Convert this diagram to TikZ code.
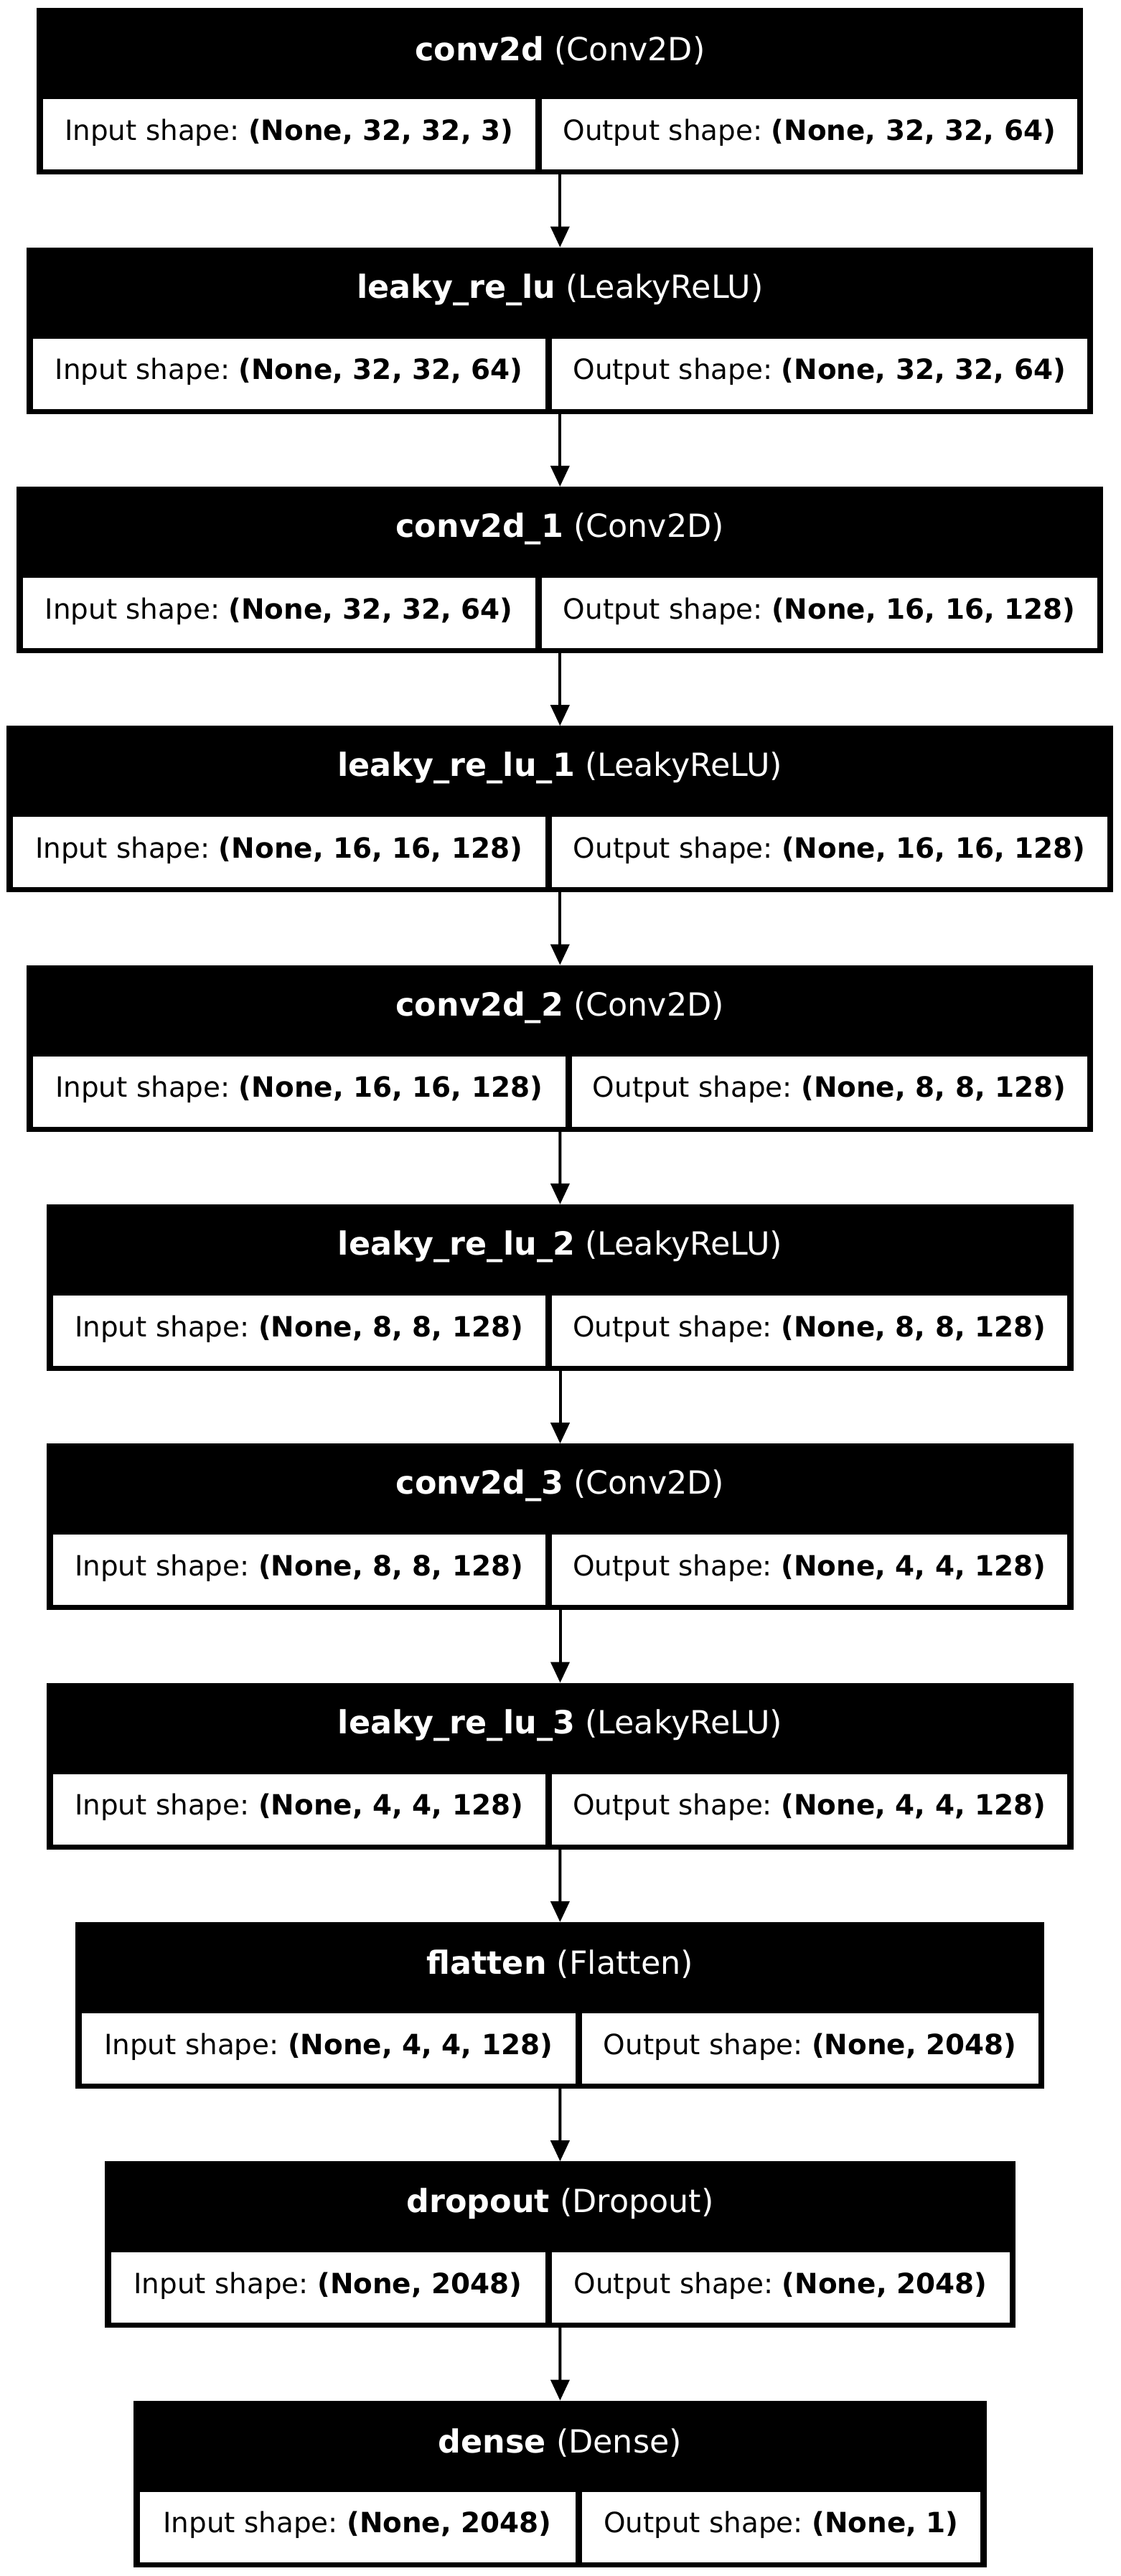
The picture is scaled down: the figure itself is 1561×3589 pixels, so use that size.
\documentclass[tikz,border=0pt]{standalone}
\usepackage{fontspec}
\setmainfont{DejaVu Sans}
\usetikzlibrary{arrows.meta}
\frenchspacing

\begin{document}
\begin{tikzpicture}[x=1pt, y=-1pt,
    layer/.style={fill=black, inner sep=0pt, outer sep=0pt, minimum height=232pt},
    title/.style={text=white, inner sep=0pt, font=\fontsize{44.44}{53}\selectfont},
    cell/.style={fill=white, draw=black, line width=1pt, inner sep=0pt,
      minimum height=99pt, text height=29.5pt, text depth=13pt,
      font=\fontsize{38.89}{46}\selectfont},
    flow/.style={-{Triangle[length=29pt, width=26pt]}, line width=4pt}]
      \useasboundingbox (0,0) rectangle (1561,3589);

      % Layers (conv + relu)
      \node[layer, minimum width=1458pt] (conv) at (780.3,127.2) {};
      \node[title] (conv-t) at (780.3,70.2) {\textbf{conv2d} (Conv2D)};
      \node[cell, minimum width=686.7pt] (conv-in) at (402.65,187.2) {Input shape: \textbf{(None, 32, 32, 3)}};
      \node[cell, minimum width=747.3pt] (conv-out) at (1127.65,187.2) {Output shape: \textbf{(None, 32, 32, 64)}};

      \node[layer, minimum width=1486pt] (relu) at (780.3,460.5) {};
      \node[title] (relu-t) at (780.3,403.5) {\textbf{leaky\_re\_lu} (LeakyReLU)};
      \node[cell, minimum width=714.7pt] (relu-in) at (402.65,520.5) {Input shape: \textbf{(None, 32, 32, 64)}};
      \node[cell, minimum width=747.3pt] (relu-out) at (1141.65,520.5) {Output shape: \textbf{(None, 32, 32, 64)}};

      \node[layer, minimum width=1514pt] (convA) at (780.3,793.9) {};
      \node[title] (convA-t) at (780.3,736.9) {\textbf{conv2d\_1} (Conv2D)};
      \node[cell, minimum width=714.7pt] (convA-in) at (388.65,853.9) {Input shape: \textbf{(None, 32, 32, 64)}};
      \node[cell, minimum width=775.3pt] (convA-out) at (1141.65,853.9) {Output shape: \textbf{(None, 16, 16, 128)}};

      \node[layer, minimum width=1542pt] (reluA) at (780.3,1127.2) {};
      \node[title] (reluA-t) at (780.3,1070.2) {\textbf{leaky\_re\_lu\_1} (LeakyReLU)};
      \node[cell, minimum width=742.7pt] (reluA-in) at (388.65,1187.2) {Input shape: \textbf{(None, 16, 16, 128)}};
      \node[cell, minimum width=775.3pt] (reluA-out) at (1155.65,1187.2) {Output shape: \textbf{(None, 16, 16, 128)}};

      \node[layer, minimum width=1486pt] (convB) at (780.3,1460.5) {};
      \node[title] (convB-t) at (780.3,1403.5) {\textbf{conv2d\_2} (Conv2D)};
      \node[cell, minimum width=742.7pt] (convB-in) at (416.65,1520.5) {Input shape: \textbf{(None, 16, 16, 128)}};
      \node[cell, minimum width=719.3pt] (convB-out) at (1155.65,1520.5) {Output shape: \textbf{(None, 8, 8, 128)}};

      \node[layer, minimum width=1430.4pt] (reluB) at (780.5,1793.9) {};
      \node[title] (reluB-t) at (780.5,1736.9) {\textbf{leaky\_re\_lu\_2} (LeakyReLU)};
      \node[cell, minimum width=686.7pt] (reluB-in) at (416.65,1853.9) {Input shape: \textbf{(None, 8, 8, 128)}};
      \node[cell, minimum width=719.7pt] (reluB-out) at (1127.85,1853.9) {Output shape: \textbf{(None, 8, 8, 128)}};

      \node[layer, minimum width=1430.4pt] (convC) at (780.5,2127.2) {};
      \node[title] (convC-t) at (780.5,2070.2) {\textbf{conv2d\_3} (Conv2D)};
      \node[cell, minimum width=686.7pt] (convC-in) at (416.65,2187.2) {Input shape: \textbf{(None, 8, 8, 128)}};
      \node[cell, minimum width=719.7pt] (convC-out) at (1127.85,2187.2) {Output shape: \textbf{(None, 4, 4, 128)}};

      \node[layer, minimum width=1430.4pt] (reluC) at (780.5,2460.5) {};
      \node[title] (reluC-t) at (780.5,2403.5) {\textbf{leaky\_re\_lu\_3} (LeakyReLU)};
      \node[cell, minimum width=686.7pt] (reluC-in) at (416.65,2520.5) {Input shape: \textbf{(None, 4, 4, 128)}};
      \node[cell, minimum width=719.7pt] (reluC-out) at (1127.85,2520.5) {Output shape: \textbf{(None, 4, 4, 128)}};

      % Layers (head)
      \node[layer, minimum width=1350pt] (flat) at (780.3,2793.9) {};
      \node[title] (flat-t) at (780.3,2736.9) {\textbf{flatten} (Flatten)};
      \node[cell, minimum width=688.7pt] (flat-in) at (457.65,2853.9) {Input shape: \textbf{(None, 4, 4, 128)}};
      \node[cell, minimum width=637.3pt] (flat-out) at (1128.65,2853.9) {Output shape: \textbf{(None, 2048)}};

      \node[layer, minimum width=1269pt] (drop) at (780.5,3127.2) {};
      \node[title] (drop-t) at (780.5,3070.2) {\textbf{dropout} (Dropout)};
      \node[cell, minimum width=606pt] (drop-in) at (457,3187.2) {Input shape: \textbf{(None, 2048)}};
      \node[cell, minimum width=639pt] (drop-out) at (1087.5,3187.2) {Output shape: \textbf{(None, 2048)}};

      \node[layer, minimum width=1188.7pt] (dense) at (780.35,3460.5) {};
      \node[title] (dense-t) at (780.35,3403.5) {\textbf{dense} (Dense)};
      \node[cell, minimum width=608pt] (dense-in) at (498,3520.5) {Input shape: \textbf{(None, 2048)}};
      \node[cell, minimum width=556.7pt] (dense-out) at (1088.35,3520.5) {Output shape: \textbf{(None, 1)}};

      % Arcs
      \draw[flow] (conv) -- (relu);
      \draw[flow] (relu) -- (convA);
      \draw[flow] (convA) -- (reluA);
      \draw[flow] (reluA) -- (convB);
      \draw[flow] (convB) -- (reluB);
      \draw[flow] (reluB) -- (convC);
      \draw[flow] (convC) -- (reluC);
      \draw[flow] (reluC) -- (flat);
      \draw[flow] (flat) -- (drop);
      \draw[flow] (drop) -- (dense);
    \end{tikzpicture}
\end{document}
